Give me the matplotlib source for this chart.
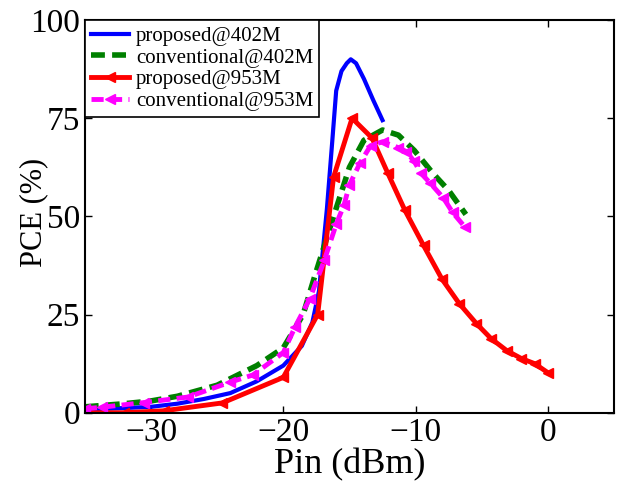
import matplotlib
matplotlib.use('Agg')
import matplotlib.pyplot as plt

plt.rcParams['font.family'] = ['Liberation Serif', 'DejaVu Serif']

# proposed @ 402 MHz
x_p402 = [-35, -32, -30, -28, -26, -24, -22, -20, -18.6, -17.8, -17.3, -16.7, -16.3, -16.0,
          -15.6, -15.2, -14.9, -14.5, -13.9, -13.2, -12.5]
y_p402 = [0.8, 1.2, 1.5, 2.3, 3.5, 5, 8, 12, 17, 23, 31, 52, 69, 82,
          87, 89, 90, 89, 85, 79.6, 74.5]

# conventional @ 402 MHz
x_c402 = [-35, -32, -30, -28, -25, -22, -20, -18.5, -17.6, -16.1, -15, -13.9, -12.5, -11.3,
          -10.1, -8.7, -7.5, -6.2]
y_c402 = [1.5, 2.3, 3, 4.2, 7, 12, 16.5, 25, 35, 51, 62.5, 69.4, 72, 70.7,
          66.8, 61, 56.6, 50.5]

# proposed @ 953 MHz
x_p953 = [-35, -32, -29, -24.6, -20, -17.4, -16.2, -14.8, -13.3, -12.1, -10.8, -9.4, -8,
          -6.7, -5.4, -4.3, -3.1, -2, -1, 0]
y_p953 = [0, 0, 0.5, 2.5, 9, 25, 60, 75, 70, 61, 51.5, 42.6, 34,
          27.8, 22.7, 18.9, 15.8, 13.8, 12.5, 10.2]

# conventional @ 953 MHz
x_c953 = [-35, -33.7, -30.5, -27.2, -24, -22.3, -20, -19.1, -18, -16.9, -16, -15.4, -15,
          -14.2, -13.4, -12.5, -11.3, -10.7, -10.1, -9.6, -8.9, -7.9, -7.2, -6.3]
y_c953 = [1, 1.4, 2.6, 4, 7.8, 9.6, 15.3, 21.9, 29, 38.8, 48, 53, 58,
          63.6, 68, 69, 67.5, 66.5, 64, 61, 58.5, 54.7, 51, 47.4]

fig = plt.figure(figsize=(6.19, 4.83), dpi=100)
ax = fig.add_axes([0.137, 0.1455, 0.855, 0.813])

ax.plot(x_p402, y_p402, color='blue', linewidth=3, label='proposed@402M')
ax.plot(x_c402, y_c402, color='green', linewidth=4, linestyle=(0, (2.5, 1.3)),
        label='conventional@402M')
ax.plot(x_p953, y_p953, color='red', linewidth=3.5, marker='<', markersize=7,
        label='proposed@953M')
ax.plot(x_c953, y_c953, color='magenta', linewidth=3.5, linestyle=(0, (2.5, 1.3)),
        marker='<', markersize=7, label='conventional@953M')

ax.set_xlim(-35, 5)
ax.set_ylim(0, 100)
ax.set_xticks([-30, -20, -10, 0])
ax.set_yticks([0, 25, 50, 75, 100])
ax.tick_params(direction='in', top=True, right=True, labelsize=24, length=5, width=1)
for s in ax.spines.values():
    s.set_linewidth(1.5)

ax.set_xlabel('Pin (dBm)', fontsize=26, labelpad=0)
ax.set_ylabel('PCE (%)', fontsize=22)
ax.yaxis.set_label_coords(-0.07, 0.51)

leg = ax.legend(loc='upper left', borderaxespad=0, fontsize=15, fancybox=False,
                framealpha=1, edgecolor='black', handlelength=1.8, handletextpad=0.35,
                labelspacing=0.1, borderpad=0.3)
leg.get_frame().set_linewidth(1.2)

plt.savefig('out.png', dpi=100)
